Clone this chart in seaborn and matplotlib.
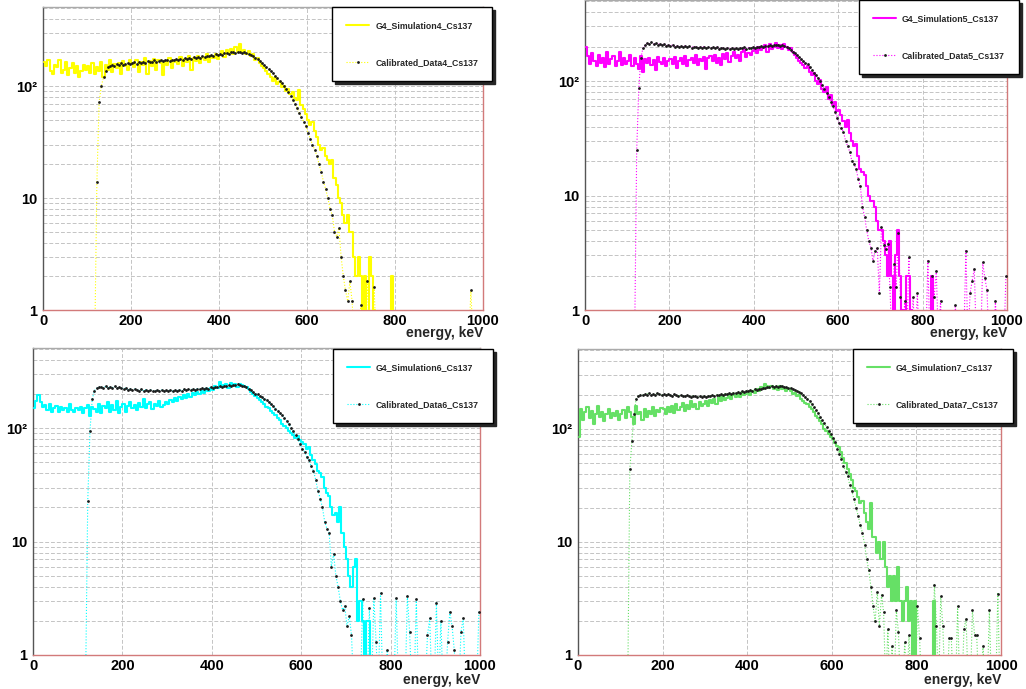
import numpy as np
import pandas as pd
import matplotlib
matplotlib.use("Agg")
import matplotlib.pyplot as plt
from matplotlib.ticker import (FixedLocator, FixedFormatter, MultipleLocator,
                               LogLocator, NullFormatter)
import seaborn as sns

# ---------------------------------------------------------------- data
bin_width = 5  # keV
energy_kev = np.arange(bin_width / 2, 1000, bin_width)  # 200 bin centres

sim4 = [
    165, 150, 172, 138, 128, 155, 148, 170, 132, 140, 165, 125, 145, 160, 130, 150, 122, 138, 155, 140,
    150, 130, 160, 128, 148, 138, 165, 120, 155, 140, 170, 135, 158, 145, 162, 128, 168, 150, 140, 172,
    160, 148, 172, 135, 165, 155, 178, 128, 168, 150, 175, 140, 170, 162, 125, 168, 155, 178, 145, 165,
    170, 158, 182, 150, 175, 165, 185, 140, 178, 168, 188, 160, 180, 172, 192, 165, 185, 178, 195, 175,
    190, 205, 182, 210, 198, 215, 195, 225, 205, 238, 200, 212, 195, 208, 188, 195, 172, 178, 160, 150,
    145, 138, 128, 122, 112, 118, 104, 108, 98, 100, 90, 94, 85, 88, 78, 75, 92, 68, 62, 56,
    50, 45, 48, 40, 35, 30, 27, 28, 24, 22, 20, 22, 15, 13, 10, 9, 7, 6, 7, 5,
    5, 3, 2, 3, 2, 1, 2, 0, 3, 2, 1, 0, 0, 0, 0, 0, 0, 0, 2, 0,
    0, 0, 0, 0, 0, 0, 0, 0, 0, 0, 0, 0, 0, 0, 0, 0, 0, 0, 0, 0,
    0, 0, 0, 0, 0, 0, 0, 0, 0, 0, 0, 0, 0, 0, 0, 0, 0, 0, 0, 0,
]
data4 = [
    0, 0, 0, 0, 0, 0, 0, 0, 0, 0, 0, 0, 0, 0, 0, 0, 0, 0, 0, 0,
    0, 0, 0, 0, 14, 72, 100, 120, 138, 148, 150, 155, 152, 158, 154, 160, 156, 158, 162, 157,
    160, 163, 158, 165, 161, 166, 162, 168, 164, 166, 170, 165, 168, 171, 167, 170, 173, 169, 172, 170,
    174, 171, 176, 172, 178, 175, 180, 176, 182, 178, 184, 180, 186, 183, 188, 185, 190, 187, 192, 190,
    194, 191, 196, 198, 195, 200, 203, 199, 202, 200, 198, 201, 196, 193, 190, 186, 180, 175, 168, 162,
    155, 149, 142, 136, 130, 124, 118, 112, 106, 100, 94, 88, 82, 76, 70, 64, 58, 53, 48, 44,
    38, 34, 30, 27, 24, 20, 17, 14, 12, 10, 8, 7, 5, 4.5, 5.4, 3, 2, 1.5, 1.2, 1.8,
    1.2, 0, 0, 0, 1.1, 0, 0, 1.8, 0, 0, 1.6, 0, 0, 0, 0, 0, 0, 0, 0, 0,
    0, 0, 0, 0, 0, 0, 0, 0, 0, 0, 0, 0, 0, 0, 0, 0, 0, 0, 0, 0,
    0, 0, 0, 0, 0, 0, 0, 0, 0, 0, 0, 0, 0, 0, 1.5, 0, 0, 0, 0, 0,
]
sim5 = [
    200, 165, 140, 175, 150, 135, 170, 145, 160, 132, 178, 140, 155, 165, 135, 150, 180, 138, 160, 142,
    150, 170, 135, 158, 140, 128, 165, 120, 155, 145, 160, 138, 152, 125, 162, 148, 140, 158, 135, 150,
    155, 140, 162, 130, 150, 158, 142, 165, 135, 152, 160, 145, 168, 138, 155, 150, 162, 128, 158, 165,
    150, 168, 145, 160, 138, 172, 155, 175, 148, 165, 180, 158, 170, 150, 178, 185, 162, 175, 168, 182,
    190, 175, 200, 185, 195, 205, 180, 210, 192, 200, 215, 195, 208, 190, 212, 200, 185, 195, 178, 170,
    160, 150, 145, 138, 130, 135, 120, 112, 118, 100, 95, 102, 85, 80, 88, 70, 75, 62, 65, 55,
    56, 50, 45, 40, 46, 35, 30, 27, 28, 22, 17, 16, 15, 12, 10, 9, 9, 8, 6, 5,
    5, 4, 3, 2, 4, 2, 1, 3, 5, 2, 1, 0, 2, 2, 1, 0, 0, 0, 0, 0,
    0, 0, 0, 0, 2, 0, 0, 0, 0, 0, 0, 0, 0, 0, 0, 0, 0, 0, 0, 0,
    0, 0, 0, 0, 0, 0, 0, 0, 0, 0, 0, 0, 0, 0, 0, 0, 0, 0, 0, 0,
]
data5 = [
    0, 0, 0, 0, 0, 0, 0, 0, 0, 0, 0, 0, 0, 0, 0, 0, 0, 0, 0, 0,
    0, 0, 0, 0, 25, 87, 160, 195, 205, 215, 212, 218, 210, 214, 208, 212, 206, 210, 204, 207,
    203, 206, 200, 204, 198, 202, 199, 203, 197, 201, 196, 200, 198, 195, 199, 196, 200, 194, 198, 195,
    197, 193, 198, 192, 196, 194, 190, 195, 192, 196, 191, 194, 190, 195, 193, 197, 192, 196, 194, 198,
    196, 200, 197, 202, 199, 204, 201, 206, 203, 208, 205, 207, 203, 206, 204, 200, 195, 188, 180, 174,
    170, 163, 156, 150, 145, 140, 132, 125, 118, 112, 106, 100, 93, 86, 79, 72, 66, 60, 54, 48,
    43, 39, 36, 30, 27, 24, 20, 19, 17, 14, 12, 8, 6.5, 5, 4, 3.5, 2.7, 3.3, 3.5, 1.4,
    5.3, 3.7, 3.4, 3.8, 1.6, 0, 2.5, 1.6, 4.7, 1.3, 0, 1.2, 0, 2.9, 0, 1.3, 0, 1.4, 0, 0,
    0, 0, 2.7, 0, 2.0, 1.3, 2.2, 0, 1.2, 0, 0, 0, 0, 0, 0, 1.1, 0, 0, 0, 0,
    3.3, 0, 1.4, 1.8, 2.3, 0, 0, 0, 2.6, 1.9, 1.5, 0, 0, 0, 1.2, 0, 0, 0, 0, 2.0,
]
sim6 = [
    150, 175, 195, 170, 155, 160, 145, 165, 140, 150, 158, 138, 155, 145, 150, 140, 162, 145, 138, 152,
    145, 155, 135, 150, 160, 128, 155, 148, 140, 165, 135, 158, 150, 170, 140, 160, 145, 175, 135, 155,
    165, 140, 158, 170, 150, 160, 145, 168, 155, 180, 150, 162, 170, 148, 165, 158, 175, 155, 160, 172,
    165, 178, 170, 185, 175, 190, 180, 195, 185, 200, 190, 205, 195, 210, 200, 215, 205, 220, 212, 225,
    218, 235, 225, 255, 230, 240, 245, 228, 250, 238, 245, 232, 248, 240, 235, 230, 222, 210, 200, 192,
    185, 178, 170, 165, 155, 150, 142, 135, 130, 122, 118, 110, 105, 100, 95, 90, 88, 82, 85, 78,
    75, 72, 65, 68, 58, 52, 48, 42, 40, 37, 30, 27, 25, 20, 17, 18, 15, 20, 12, 9,
    7, 5, 4, 6, 7, 2, 3, 2, 1, 2, 2, 0, 0, 0, 0, 0, 0, 0, 0, 0,
    0, 0, 0, 0, 0, 0, 0, 0, 0, 0, 0, 0, 0, 0, 0, 0, 0, 0, 0, 0,
    0, 0, 0, 0, 0, 0, 0, 0, 0, 0, 0, 0, 0, 0, 0, 0, 0, 0, 0, 0,
]
data6 = [
    0, 0, 0, 0, 0, 0, 0, 0, 0, 0, 0, 0, 0, 0, 0, 0, 0, 0, 0, 0,
    0, 0, 0, 0, 23, 95, 180, 215, 225, 232, 230, 228, 234, 226, 232, 228, 235, 225, 230, 228,
    222, 226, 218, 224, 216, 222, 218, 215, 220, 214, 219, 213, 218, 215, 212, 217, 214, 218, 212, 216,
    213, 217, 212, 216, 214, 218, 215, 220, 216, 221, 218, 222, 219, 224, 220, 226, 222, 228, 224, 230,
    228, 232, 230, 235, 232, 238, 235, 240, 237, 242, 240, 244, 241, 238, 235, 230, 224, 218, 210, 202,
    200, 194, 188, 182, 176, 170, 163, 156, 149, 142, 135, 130, 124, 116, 108, 101, 94, 87, 80, 72,
    66, 62, 56, 52, 46, 42, 35, 28, 24, 20, 15, 13, 12, 6, 7.8, 5, 4, 3, 2.5, 2.7,
    1.8, 2.2, 1.5, 0, 0, 0, 0, 3.1, 0, 0, 2.6, 0, 3.2, 1.3, 0, 3.5, 0, 0, 1.1, 0,
    0, 0, 3.2, 0, 0, 0, 0, 3.3, 1.6, 0, 0, 3.1, 0, 0, 0, 0, 1.5, 2.1, 0, 0,
    2.9, 0, 2.0, 0, 0, 1.3, 2.4, 1.8, 1.1, 0, 0, 1.6, 2.1, 0, 0, 0, 0, 0, 0, 2.4,
]
sim7 = [
    85, 150, 120, 140, 155, 125, 145, 110, 135, 160, 128, 140, 118, 135, 150, 125, 138, 130, 145, 120,
    135, 148, 125, 155, 140, 128, 110, 160, 135, 142, 120, 150, 128, 145, 135, 155, 130, 148, 140, 152,
    150, 135, 158, 142, 160, 138, 165, 148, 155, 170, 145, 162, 150, 175, 158, 165, 150, 172, 160, 168,
    175, 160, 180, 170, 185, 168, 190, 178, 195, 182, 188, 200, 185, 198, 190, 205, 192, 210, 198, 205,
    212, 200, 218, 208, 225, 215, 235, 225, 252, 238, 230, 242, 228, 235, 222, 238, 225, 230, 218, 225,
    215, 205, 210, 195, 200, 185, 178, 170, 165, 155, 150, 140, 130, 125, 118, 110, 100, 95, 91, 85,
    82, 75, 70, 69, 62, 55, 50, 44, 40, 35, 30, 28, 25, 22, 23, 18, 15, 13, 22, 11,
    11, 8, 10, 7, 10, 6, 4, 5, 3, 5, 3, 6, 3, 2, 3, 4, 2, 3, 1, 3,
    0, 0, 0, 0, 0, 0, 0, 0, 3, 0, 0, 0, 0, 0, 0, 0, 0, 0, 0, 0,
    0, 0, 0, 0, 0, 0, 0, 0, 0, 0, 0, 0, 0, 0, 0, 0, 0, 0, 0, 0,
]
data7 = [
    0, 0, 0, 0, 0, 0, 0, 0, 0, 0, 0, 0, 0, 0, 0, 0, 0, 0, 0, 0,
    0, 0, 0, 0, 44, 79, 136, 185, 196, 200, 198, 205, 200, 210, 198, 204, 200, 207, 202, 199,
    203, 198, 205, 200, 196, 202, 198, 195, 200, 196, 194, 199, 195, 192, 197, 194, 190, 196, 193, 195,
    192, 197, 194, 199, 196, 201, 198, 203, 200, 205, 203, 208, 205, 210, 207, 212, 210, 215, 212, 218,
    215, 220, 218, 224, 221, 228, 225, 232, 230, 236, 234, 238, 236, 240, 237, 240, 238, 236, 234, 232,
    230, 226, 222, 218, 212, 206, 200, 192, 186, 176, 166, 155, 146, 138, 128, 120, 112, 104, 96, 90,
    84, 76, 66, 60, 54, 47, 42, 38, 32, 28, 24, 20, 17, 14, 12, 9.5, 7, 5.6, 4, 2.7,
    2.0, 3.6, 1.8, 3.4, 2.4, 0, 1.7, 0, 1.2, 0, 2.5, 1.6, 0, 0, 1.3, 0, 1.5, 0, 0, 0,
    2.7, 1.4, 0, 0, 0, 0, 0, 0, 4.2, 1.8, 0, 3.3, 1.8, 0, 0, 1.4, 1.4, 0, 0, 2.7,
    0, 0, 1.7, 2.1, 0, 0, 2.5, 1.5, 1.5, 0, 0, 1.2, 0, 0, 2.5, 0, 0, 0, 3.5, 0,
]

sim_labels = ["G4_Simulation4_Cs137", "G4_Simulation5_Cs137",
              "G4_Simulation6_Cs137", "G4_Simulation7_Cs137"]
data_labels = ["Calibrated_Data4_Cs137", "Calibrated_Data5_Cs137",
               "Calibrated_Data6_Cs137", "Calibrated_Data7_Cs137"]
y_tick_values = [1, 10, 100]
y_tick_labels = ["1", "10", "10\u00b2"]
x_label = "energy, keV"

# ---------------------------------------------------------------- style
sns.set_style("white")
plt.rcParams["font.family"] = ["Liberation Sans", "DejaVu Sans"]
plt.rcParams["font.weight"] = "bold"

W, H = 1026, 689
fig = plt.figure(figsize=(W / 100, H / 100), dpi=100)
fig.patch.set_facecolor("white")

panels = [
    dict(sim=sim4, data=data4, color="#ffff00", rect=(43, 7, 483, 310), leg=(492, 7), lab_off=16.5),
    dict(sim=sim5, data=data5, color="#ff00ff", rect=(585, 0, 1007, 310), leg=(1019, 0), lab_off=16.5),
    dict(sim=sim6, data=data6, color="#00ffff", rect=(33, 348, 480, 655), leg=(493, 349), lab_off=18),
    dict(sim=sim7, data=data7, color="#66e066", rect=(578, 349, 1001, 655), leg=(1013, 349), lab_off=18),
]

for i, p in enumerate(panels):
    l, t, r, b = p["rect"]
    ax = fig.add_axes([l / W, 1 - b / H, (r - l) / W, (b - t) / H])
    ax.set_facecolor("white")
    df = pd.DataFrame({
        "energy": energy_kev,
        "sim": np.clip(np.asarray(p["sim"], float), 0.5, None),
        "data": np.clip(np.asarray(p["data"], float), 0.5, None),
    })
    sns.lineplot(data=df, x="energy", y="sim", ax=ax, color=p["color"], lw=1.5,
                 drawstyle="steps-mid", estimator=None, sort=False, errorbar=None,
                 label=sim_labels[i], zorder=3)
    sns.lineplot(data=df, x="energy", y="data", ax=ax, color=p["color"], lw=0.8,
                 linestyle=":", marker="o", markersize=2.0,
                 markerfacecolor="#1a1a1a", markeredgecolor="#1a1a1a",
                 markeredgewidth=0, estimator=None, sort=False, errorbar=None,
                 label=data_labels[i], zorder=4)

    ax.set_yscale("log")
    ax.set_ylim(1, 510)
    ax.set_xlim(0, 1000)
    ax.set_xlabel("")
    ax.set_ylabel("")

    ax.yaxis.set_major_locator(FixedLocator(y_tick_values))
    ax.yaxis.set_major_formatter(FixedFormatter(y_tick_labels))
    ax.yaxis.set_minor_locator(LogLocator(base=10, subs=np.arange(2, 10), numticks=20))
    ax.yaxis.set_minor_formatter(NullFormatter())
    ax.xaxis.set_major_locator(MultipleLocator(200))
    ax.xaxis.set_minor_locator(MultipleLocator(50))

    ax.set_axisbelow(True)
    ax.grid(True, which="major", axis="both", color="#c4c4c4", lw=0.7, ls=(0, (4, 2)))
    ax.grid(True, which="minor", axis="y", color="#c4c4c4", lw=0.7, ls=(0, (4, 2)))

    ax.tick_params(axis="both", which="both", direction="in", color="#666666",
                   labelcolor="black", top=False, right=False, width=0.8)
    ax.tick_params(axis="both", which="major", length=7, labelsize=10.5)
    ax.tick_params(axis="both", which="minor", length=3.5)
    ax.tick_params(axis="x", which="major", pad=3)
    ax.tick_params(axis="y", which="major", pad=4)

    for side, col in (("left", "#555555"), ("top", "#aaaaaa"),
                      ("right", "#d27a7a"), ("bottom", "#d27a7a")):
        ax.spines[side].set_visible(True)
        ax.spines[side].set_color(col)
        ax.spines[side].set_linewidth(1.0)

    ax.annotate(x_label, xy=(1, 0), xycoords="axes fraction",
                xytext=(0, -p["lab_off"]), textcoords="offset points",
                ha="right", va="center", fontsize=10, fontweight="bold")

    handles, labels = ax.get_legend_handles_labels()
    lx, ly = p["leg"]
    leg = ax.legend(handles, labels, loc="upper right",
                    bbox_to_anchor=(lx / W, 1 - ly / H), bbox_transform=fig.transFigure,
                    borderaxespad=0, fontsize=6.3, frameon=True, fancybox=False,
                    edgecolor="black", framealpha=1,
                    shadow={"ox": 2.2, "oy": -2.2, "shade": 0.85, "alpha": 1.0},
                    borderpad=1.6, labelspacing=3.2, handlelength=2.6,
                    handletextpad=0.7)
    leg.get_frame().set_linewidth(1.0)

fig.savefig("out.png", dpi=100, facecolor="white")
